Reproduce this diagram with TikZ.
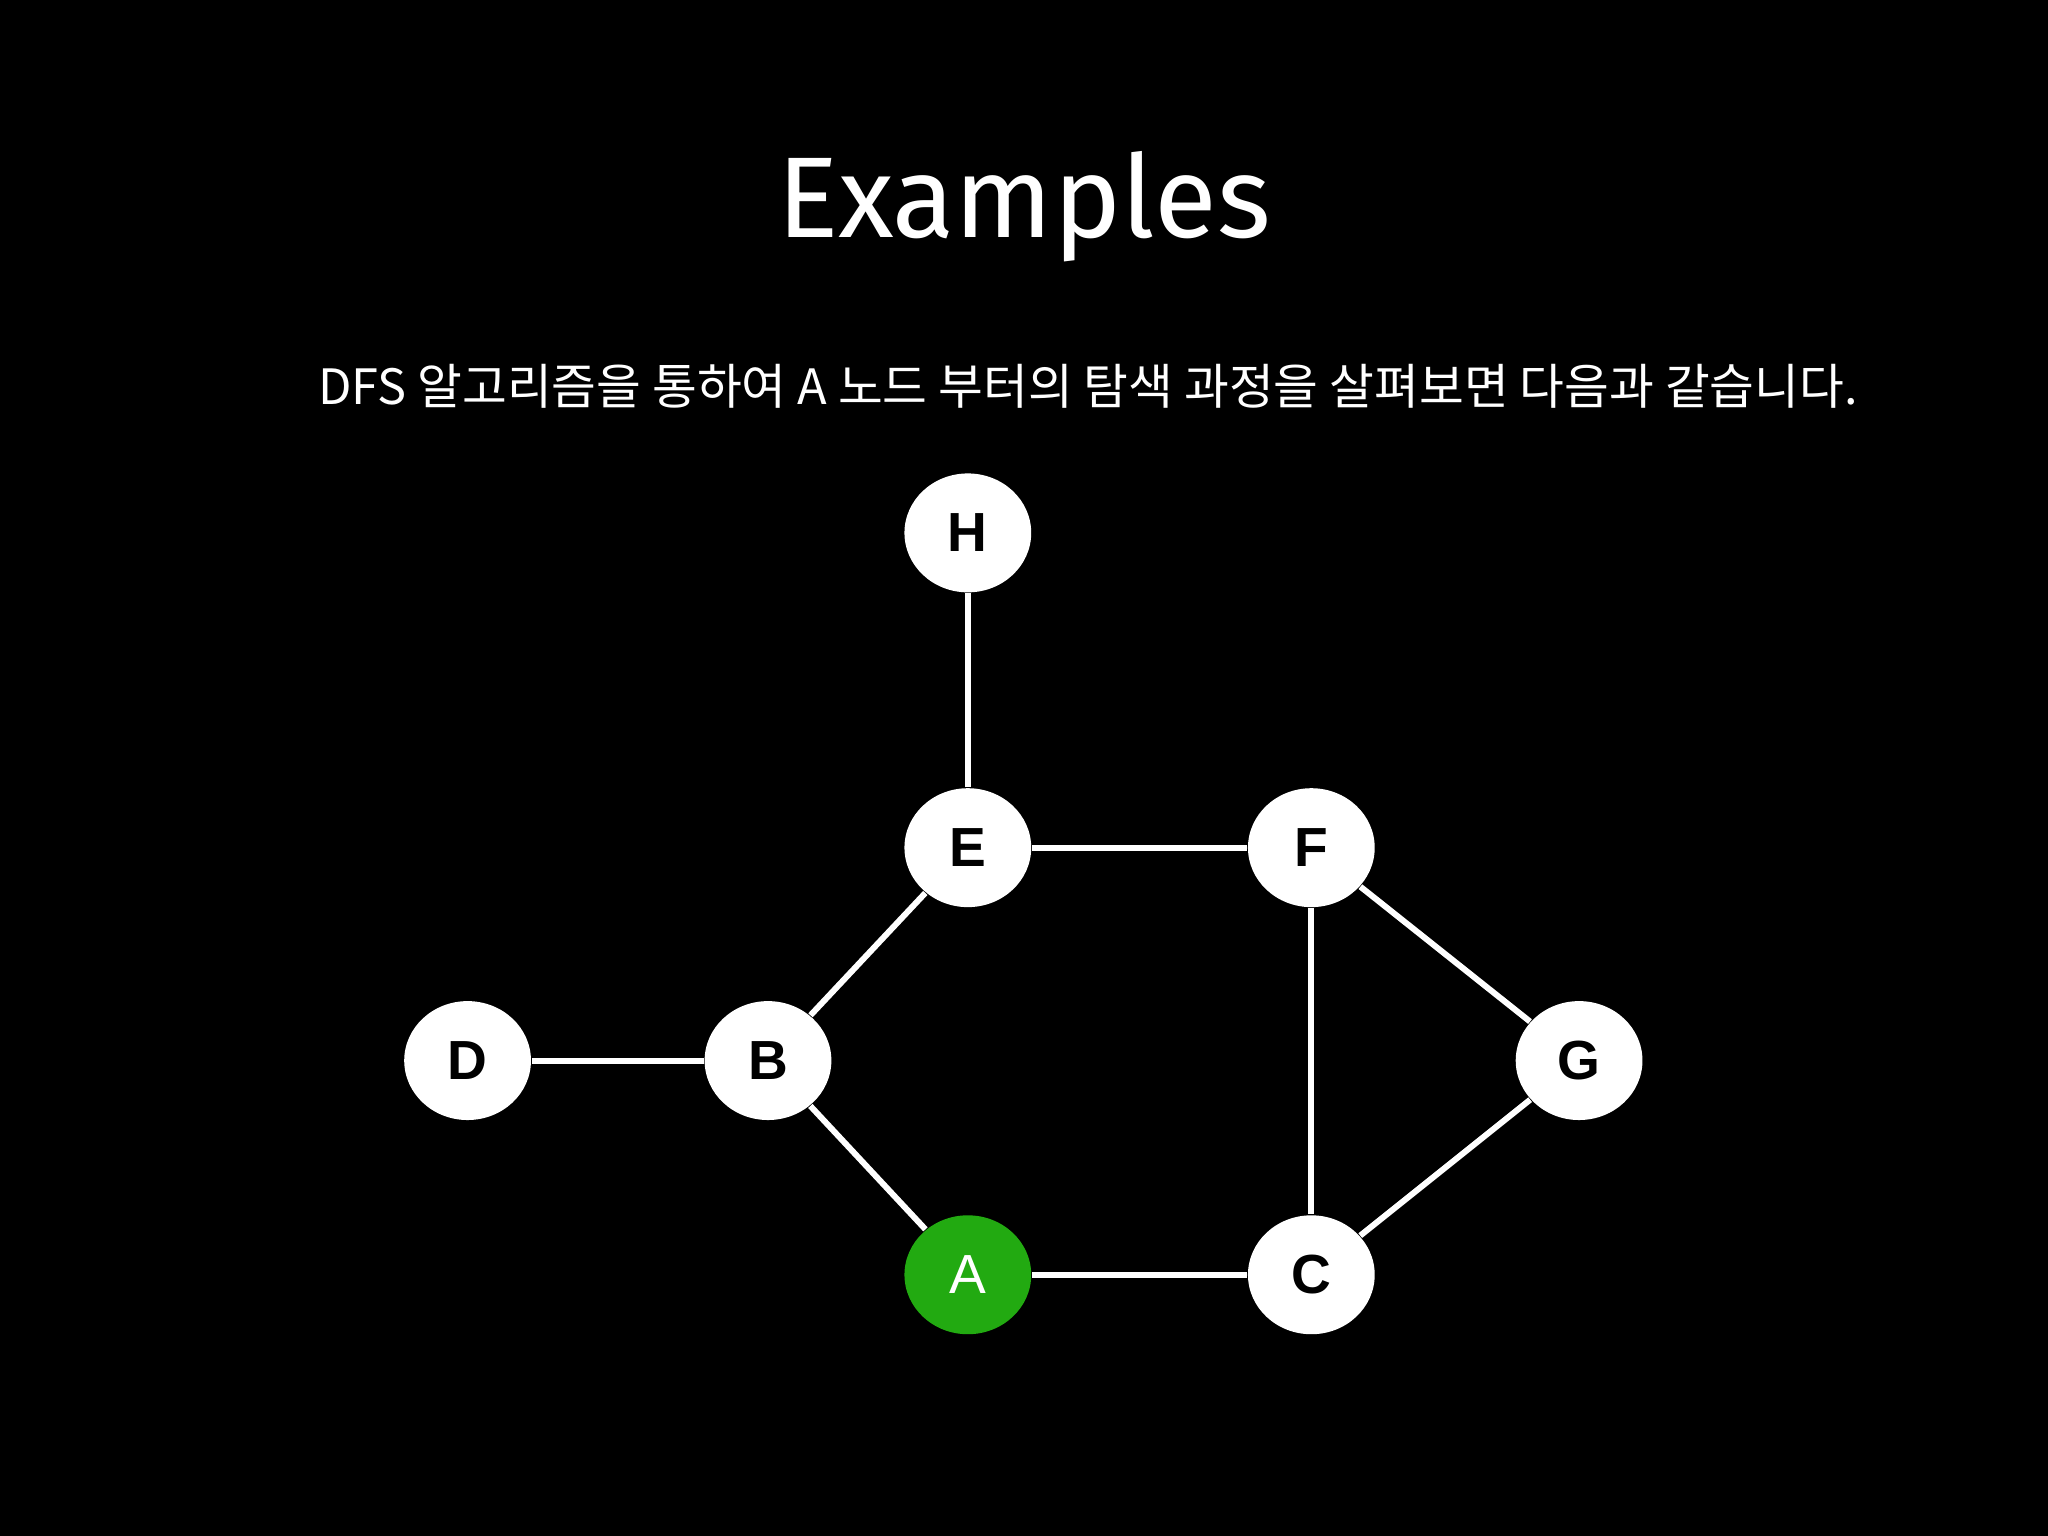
\documentclass[tikz,border=0pt]{standalone}
\usepackage{fontspec}
\setmainfont{Liberation Sans}
\newfontfamily\kfont{Noto Sans CJK KR}
\newfontfamily\tfont{Fira Sans}
\usetikzlibrary{shapes.geometric}
\begin{document}
\begin{tikzpicture}[x=0.01cm,y=-0.01cm,
  vtx/.style={ellipse,fill=white,minimum width=0.97cm,minimum height=0.91cm,inner sep=0pt,font=\fontsize{12}{14}\selectfont\bfseries,text=black},
  edge/.style={draw=white,line width=1.3pt}]
\fill[black] (0,0) rectangle (1568,1176);
\useasboundingbox (0,0) rectangle (1568,1176);
\node[text=white,font=\tfont\fontsize{25}{30}\selectfont] (title) at (784,158) {Examples};
\node[text=white,font=\kfont\fontsize{10.6}{13}\selectfont] (sub) at (833,296) {DFS 알고리즘을 통하여 A 노드 부터의 탐색 과정을 살펴보면 다음과 같습니다.};
\node[vtx] (H) at (741,408) {H};
\node[vtx] (E) at (741,649) {E};
\node[vtx] (F) at (1004,649) {F};
\node[vtx] (D) at (358,812) {D};
\node[vtx] (B) at (588,812) {B};
\node[vtx] (G) at (1209,812) {G};
\node[vtx,fill={rgb,255:red,34;green,170;blue,17},text=white,font=\fontsize{12}{14}\selectfont] (A) at (741,976) {A};
\node[vtx] (C) at (1004,976) {C};
\draw[edge] (H) -- (E);
\draw[edge] (E) -- (F);
\draw[edge] (E) -- (B);
\draw[edge] (D) -- (B);
\draw[edge] (B) -- (A);
\draw[edge] (A) -- (C);
\draw[edge] (F) -- (C);
\draw[edge] (F) -- (G);
\draw[edge] (G) -- (C);
\end{tikzpicture}
\end{document}
